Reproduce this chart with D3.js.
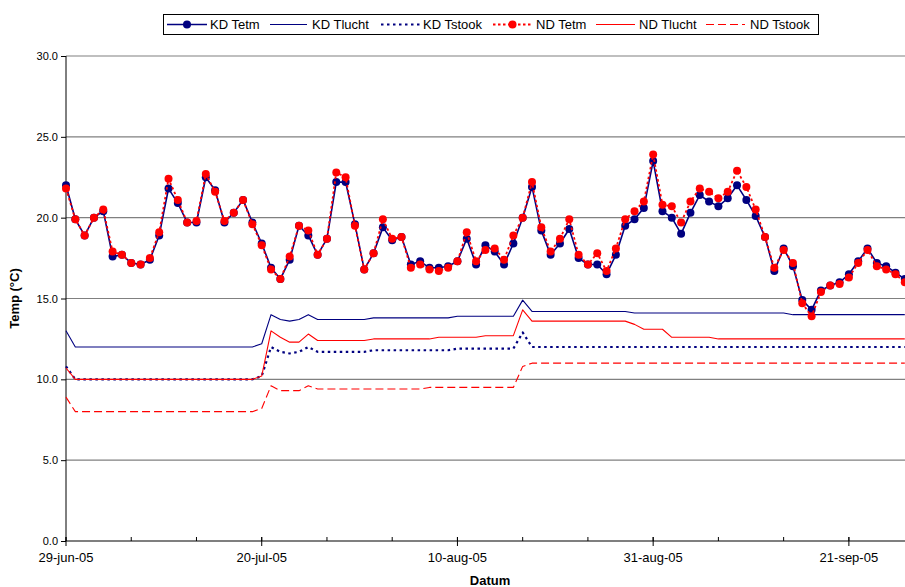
<!DOCTYPE html>
<html>
<head>
<meta charset="utf-8">
<script src="https://cdn.jsdelivr.net/npm/d3@7"></script>
<style>
  html, body { margin: 0; padding: 0; background: #fff; }
  svg { display: block; font-family: "Liberation Sans", Arial, sans-serif; }
</style>
</head>
<body>
<svg id="chart" width="905" height="587"></svg>
<script>
// ---------- DATA ----------
const startDate = "2005-06-29";
const endDate = "2005-09-30";
const yTicks = [0, 5, 10, 15, 20, 25, 30];
const seriesNames = ["KD Tetm", "KD Tlucht", "KD Tstook", "ND Tetm", "ND Tlucht", "ND Tstook"];

const kdTetm = [
  22.0, 19.9, 18.9, 20.0, 20.4, 17.6, 17.7, 17.2, 17.1, 17.4,
  18.9, 21.8, 20.9, 19.7, 19.7, 22.5, 21.7, 19.7, 20.3, 21.1,
  19.7, 18.4, 16.9, 16.2, 17.4, 19.5, 18.9, 17.7, 18.7, 22.2,
  22.2, 19.6, 16.8, 17.8, 19.4, 18.6, 18.8, 17.1, 17.3, 16.9,
  16.9, 17.0, 17.3, 18.7, 17.1, 18.3, 17.9, 17.1, 18.4, 20.0,
  21.9, 19.2, 17.7, 18.4, 19.3, 17.5, 17.1, 17.1, 16.5, 17.7,
  19.5, 19.9, 20.6, 23.5, 20.4, 20.0, 19.0, 20.3, 21.4, 21.0,
  20.7, 21.2, 22.0, 21.1, 20.1, 18.8, 16.7, 18.1, 17.0, 14.9,
  14.3, 15.5, 15.8, 16.0, 16.5, 17.3, 18.1, 17.2, 17.0, 16.6,
  16.2
];
const ndTetm = [
  21.8, 19.9, 18.9, 20.0, 20.5, 17.9, 17.7, 17.2, 17.1, 17.5,
  19.1, 22.4, 21.1, 19.7, 19.8, 22.7, 21.6, 19.8, 20.3, 21.1,
  19.6, 18.3, 16.8, 16.2, 17.6, 19.5, 19.2, 17.7, 18.7, 22.8,
  22.5, 19.5, 16.8, 17.8, 19.9, 18.7, 18.8, 16.9, 17.1, 16.8,
  16.7, 16.9, 17.3, 19.1, 17.3, 18.0, 18.1, 17.4, 18.9, 20.0,
  22.2, 19.4, 17.9, 18.7, 19.9, 17.7, 17.1, 17.8, 16.7, 18.1,
  19.9, 20.4, 21.0, 23.9, 20.8, 20.7, 19.7, 21.0, 21.8, 21.6,
  21.2, 21.6, 22.9, 21.9, 20.5, 18.8, 16.9, 18.0, 17.2, 14.7,
  13.9, 15.4, 15.8, 15.9, 16.3, 17.2, 18.0, 17.0, 16.8, 16.5,
  16.0
];
const kdTlucht = [
  13.0, 12.0, 12.0, 12.0, 12.0, 12.0, 12.0, 12.0, 12.0, 12.0,
  12.0, 12.0, 12.0, 12.0, 12.0, 12.0, 12.0, 12.0, 12.0, 12.0,
  12.0, 12.2, 14.0, 13.7, 13.6, 13.7, 14.0, 13.7, 13.7, 13.7,
  13.7, 13.7, 13.7, 13.8, 13.8, 13.8, 13.8, 13.8, 13.8, 13.8,
  13.8, 13.8, 13.9, 13.9, 13.9, 13.9, 13.9, 13.9, 13.9, 14.9,
  14.2, 14.2, 14.2, 14.2, 14.2, 14.2, 14.2, 14.2, 14.2, 14.2,
  14.2, 14.1, 14.1, 14.1, 14.1, 14.1, 14.1, 14.1, 14.1, 14.1,
  14.1, 14.1, 14.1, 14.1, 14.1, 14.1, 14.1, 14.1, 14.0, 14.0,
  14.0, 14.0, 14.0, 14.0, 14.0, 14.0, 14.0, 14.0, 14.0, 14.0,
  14.0
];
const kdTstook = [
  10.8, 10.0, 10.0, 10.0, 10.0, 10.0, 10.0, 10.0, 10.0, 10.0,
  10.0, 10.0, 10.0, 10.0, 10.0, 10.0, 10.0, 10.0, 10.0, 10.0,
  10.0, 10.2, 12.0, 11.7, 11.6, 11.7, 12.0, 11.7, 11.7, 11.7,
  11.7, 11.7, 11.7, 11.8, 11.8, 11.8, 11.8, 11.8, 11.8, 11.8,
  11.8, 11.8, 11.9, 11.9, 11.9, 11.9, 11.9, 11.9, 11.9, 12.9,
  12.0, 12.0, 12.0, 12.0, 12.0, 12.0, 12.0, 12.0, 12.0, 12.0,
  12.0, 12.0, 12.0, 12.0, 12.0, 12.0, 12.0, 12.0, 12.0, 12.0,
  12.0, 12.0, 12.0, 12.0, 12.0, 12.0, 12.0, 12.0, 12.0, 12.0,
  12.0, 12.0, 12.0, 12.0, 12.0, 12.0, 12.0, 12.0, 12.0, 12.0,
  12.0
];
const ndTlucht = [
  10.7, 10.0, 10.0, 10.0, 10.0, 10.0, 10.0, 10.0, 10.0, 10.0,
  10.0, 10.0, 10.0, 10.0, 10.0, 10.0, 10.0, 10.0, 10.0, 10.0,
  10.0, 10.2, 13.0, 12.6, 12.3, 12.3, 12.8, 12.4, 12.4, 12.4,
  12.4, 12.4, 12.4, 12.5, 12.5, 12.5, 12.5, 12.5, 12.5, 12.5,
  12.6, 12.6, 12.6, 12.6, 12.6, 12.7, 12.7, 12.7, 12.7, 14.3,
  13.6, 13.6, 13.6, 13.6, 13.6, 13.6, 13.6, 13.6, 13.6, 13.6,
  13.6, 13.4, 13.1, 13.1, 13.1, 12.6, 12.6, 12.6, 12.6, 12.6,
  12.5, 12.5, 12.5, 12.5, 12.5, 12.5, 12.5, 12.5, 12.5, 12.5,
  12.5, 12.5, 12.5, 12.5, 12.5, 12.5, 12.5, 12.5, 12.5, 12.5,
  12.5
];
const ndTstook = [
  8.9, 8.0, 8.0, 8.0, 8.0, 8.0, 8.0, 8.0, 8.0, 8.0,
  8.0, 8.0, 8.0, 8.0, 8.0, 8.0, 8.0, 8.0, 8.0, 8.0,
  8.0, 8.2, 9.6, 9.3, 9.3, 9.3, 9.6, 9.4, 9.4, 9.4,
  9.4, 9.4, 9.4, 9.4, 9.4, 9.4, 9.4, 9.4, 9.4, 9.5,
  9.5, 9.5, 9.5, 9.5, 9.5, 9.5, 9.5, 9.5, 9.5, 10.8,
  11.0, 11.0, 11.0, 11.0, 11.0, 11.0, 11.0, 11.0, 11.0, 11.0,
  11.0, 11.0, 11.0, 11.0, 11.0, 11.0, 11.0, 11.0, 11.0, 11.0,
  11.0, 11.0, 11.0, 11.0, 11.0, 11.0, 11.0, 11.0, 11.0, 11.0,
  11.0, 11.0, 11.0, 11.0, 11.0, 11.0, 11.0, 11.0, 11.0, 11.0,
  11.0
];

// ---------- SETUP ----------
(function () {
const DAY = 86400000;
const t0 = new Date(startDate + "T00:00:00Z");
const t1 = new Date(endDate + "T00:00:00Z");
const dates = kdTetm.map((_, i) => new Date(t0.getTime() + i * DAY));
const nDays = Math.round((t1 - t0) / DAY);

const svg = d3.select("#chart");
const mLeft = 66, mTop = 56, mBottom = 541;
const pxPerDay = 9.32;
const x = d3.scaleUtc().domain([t0, t1]).range([mLeft, mLeft + pxPerDay * nDays]);
const y = d3.scaleLinear().domain([0, 30]).range([mBottom, mTop]);

// gridlines
svg.append("g").selectAll("line").data(yTicks.filter(v => v > 0)).join("line")
  .attr("x1", mLeft).attr("x2", x(t1))
  .attr("y1", d => y(d)).attr("y2", d => y(d))
  .attr("stroke", "#808080").attr("stroke-width", 1.2);

// y axis
const yAxis = d3.axisLeft(y).tickValues(yTicks).tickFormat(d3.format(".1f")).tickSize(5).tickPadding(3);
const gy = svg.append("g").attr("transform", `translate(${mLeft},0)`).call(yAxis);
gy.select(".domain").attr("stroke", "#000").attr("d", `M0,${mBottom}V${mTop}`);
gy.selectAll(".tick line").attr("stroke", "#000");
gy.selectAll(".tick text").attr("font-size", 11).attr("fill", "#000")
  .attr("font-family", "'Liberation Sans', Arial, sans-serif");

// x axis
const minorTicks = d3.range(0, nDays + 1, 7).map(d => new Date(t0.getTime() + d * DAY));
const majorTicks = d3.range(0, nDays + 1, 21).map(d => new Date(t0.getTime() + d * DAY));
const fmt = d => d3.utcFormat("%d-%b-%y")(d).toLowerCase();

svg.append("line").attr("x1", mLeft).attr("x2", x(t1)).attr("y1", mBottom).attr("y2", mBottom)
  .attr("stroke", "#000").attr("stroke-width", 1.2);
svg.append("g").selectAll("line").data(minorTicks).join("line")
  .attr("x1", d => x(d)).attr("x2", d => x(d)).attr("y1", mBottom - 4).attr("y2", mBottom)
  .attr("stroke", "#000");
svg.append("g").selectAll("line").data(majorTicks).join("line")
  .attr("x1", d => x(d)).attr("x2", d => x(d)).attr("y1", mBottom - 4).attr("y2", mBottom + 5)
  .attr("stroke", "#000");
svg.append("g").selectAll("text").data(majorTicks).join("text")
  .attr("x", d => x(d)).attr("y", mBottom + 21)
  .attr("text-anchor", "middle").attr("font-size", 13).attr("fill", "#000")
  .text(fmt);

// axis titles
svg.append("text").attr("transform", `translate(19,${(mTop + mBottom) / 2}) rotate(-90)`)
  .attr("text-anchor", "middle").attr("font-size", 13).attr("font-weight", "bold")
  .text("Temp (°C)");
svg.append("text").attr("x", 490).attr("y", 585)
  .attr("text-anchor", "middle").attr("font-size", 13).attr("font-weight", "bold")
  .text("Datum");

// ---------- SERIES ----------
const NAVY = "#000080", RED = "#FF0000";
const styles = [
  { data: kdTetm,   color: NAVY, width: 1.6, dash: null,  marker: true },
  { data: kdTlucht, color: NAVY, width: 1.1, dash: null,  marker: false },
  { data: kdTstook, color: NAVY, width: 2.2, dash: "2.5,3.5", marker: false },
  { data: ndTetm,   color: RED,  width: 1.8, dash: "2.5,2.5", marker: true },
  { data: ndTlucht, color: RED,  width: 1.1, dash: null,  marker: false },
  { data: ndTstook, color: RED,  width: 1.1, dash: "8,4", marker: false }
];
const line = d3.line().x((d, i) => x(dates[i])).y(d => y(d));

const gS = svg.append("g");
styles.forEach(s => {
  gS.append("path").datum(s.data).attr("d", line)
    .attr("fill", "none").attr("stroke", s.color).attr("stroke-width", s.width)
    .attr("stroke-dasharray", s.dash).attr("stroke-linejoin", "round");
  if (s.marker) {
    gS.append("g").selectAll("circle").data(s.data).join("circle")
      .attr("cx", (d, i) => x(dates[i])).attr("cy", d => y(d)).attr("r", 4)
      .attr("fill", s.color);
  }
});

// ---------- LEGEND ----------
const lg = svg.append("g");
lg.append("rect").attr("x", 163.5).attr("y", 14.5).attr("width", 655).attr("height", 20)
  .attr("fill", "#fff").attr("stroke", "#000").attr("stroke-width", 1);
const legendPos = [
  { sx: 167, ex: 207, tx: 210 },
  { sx: 270, ex: 307, tx: 312 },
  { sx: 381, ex: 420, tx: 423 },
  { sx: 493, ex: 532, tx: 536 },
  { sx: 596, ex: 635, tx: 639 },
  { sx: 706, ex: 745, tx: 750 }
];
styles.forEach((s, i) => {
  const p = legendPos[i];
  lg.append("line").attr("x1", p.sx).attr("x2", p.ex).attr("y1", 24.5).attr("y2", 24.5)
    .attr("stroke", s.color).attr("stroke-width", s.width).attr("stroke-dasharray", s.dash);
  if (s.marker) {
    lg.append("circle").attr("cx", (p.sx + p.ex) / 2).attr("cy", 24.5).attr("r", 4).attr("fill", s.color);
  }
  lg.append("text").attr("x", p.tx).attr("y", 29).attr("font-size", 13).attr("fill", "#000")
    .text(seriesNames[i]);
});
})();
</script>
</body>
</html>
